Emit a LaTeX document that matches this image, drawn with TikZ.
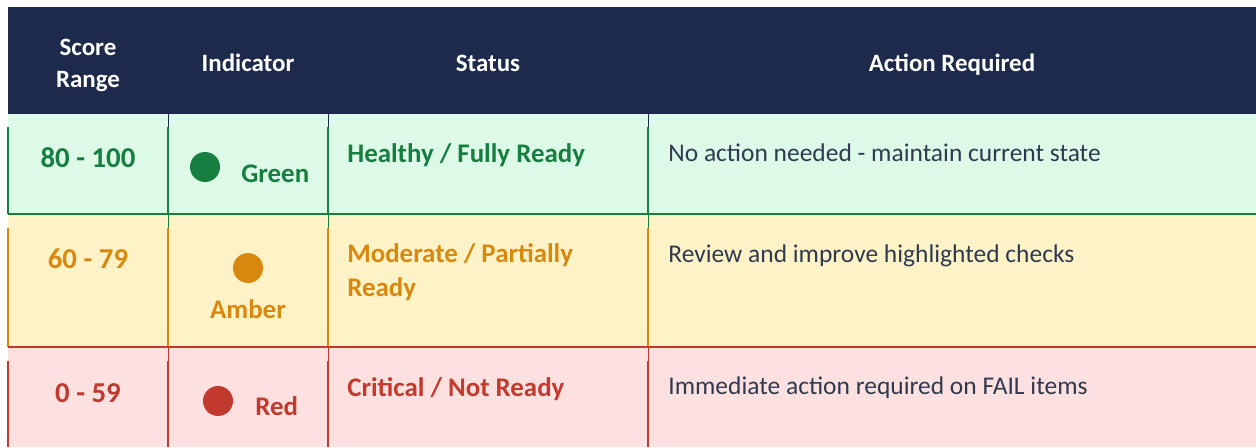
\documentclass[tikz,border=0pt]{standalone}
\usepackage{fontspec}
\setmainfont{Carlito}

\definecolor{headNavy}{HTML}{1D2A4B}
\definecolor{goodText}{HTML}{167E3E}
\definecolor{goodFill}{HTML}{DDFAE8}
\definecolor{midText}{HTML}{D8880F}
\definecolor{midFill}{HTML}{FEF2C7}
\definecolor{badText}{HTML}{C23A2E}
\definecolor{badFill}{HTML}{FDE0E0}
\definecolor{actText}{HTML}{2E3A4F}

\begin{document}
\begin{tikzpicture}
[x=0.02cm,y=-0.02cm,
  headDecorate/.style={text=white,inner sep=0pt,anchor=base,
    font=\fontsize{14.2}{18}\selectfont\bfseries},%
  scoreDecorate/.style={inner sep=0pt,anchor=base,
    font=\fontsize{16.4}{19}\selectfont\bfseries},%
  cellDecorate/.style={inner sep=0pt,anchor=base west,
    font=\fontsize{15.3}{19}\selectfont\bfseries},%
  actDecorate/.style={inner sep=0pt,anchor=base west,text=actText,
    font=\fontsize{14.5}{18}\selectfont},%
  dotDecorate/.style={shape=circle,inner sep=0pt,minimum size=30*0.02cm}]
\useasboundingbox (0,0) rectangle (1256,447);
%% header and row backgrounds
\fill[headNavy] (8,7) rectangle (1256,114);
\fill[goodFill] (8,114) rectangle (1256,214);
\fill[midFill] (8,214) rectangle (1256,347);
\fill[badFill] (8,347) rectangle (1256,447);
%% row borders
\foreach \x in {168,328,648}
{
  \draw[headNavy,line width=0.5pt] (\x,114) -- (\x,127);
  \draw[goodText,line width=0.5pt] (\x,214) -- (\x,228);
  \draw[badText,line width=0.5pt] (\x,347) -- (\x,361);
}
\foreach \x in {8,168,328,648}
{
  \draw[goodText,line width=1pt] (\x,127) -- (\x,214);
  \draw[midText,line width=1pt] (\x,228) -- (\x,347);
  \draw[badText,line width=1pt] (\x,361) -- (\x,447);
}
\draw[goodText,line width=0.7pt] (8,214) -- (1256,214);
\draw[badText,line width=0.7pt] (8,347) -- (1256,347);
%% header texts
\node (hScore) at (88,55) [headDecorate] {Score};
\node (hRange) at (88,87) [headDecorate] {Range};
\node (hInd) at (248,71) [headDecorate] {Indicator};
\node (hStat) at (488,71) [headDecorate] {Status};
\node (hAct) at (952,71) [headDecorate] {Action Required};
%% score ranges
\node (sGood) at (88,167) [scoreDecorate,text=goodText] {80 - 100};
\node (sMid) at (88,268) [scoreDecorate,text=midText] {60 - 79};
\node (sBad) at (88,402) [scoreDecorate,text=badText] {0 - 59};
%% indicators
\node (dGood) at (205,167) [dotDecorate,fill=goodText] {};
\node (dMid) at (248,268) [dotDecorate,fill=midText] {};
\node (dBad) at (218,401) [dotDecorate,fill=badText] {};
\node (iGood) at (241,182) [cellDecorate,text=goodText] {Green};
\node (iMid) at (248,318) [cellDecorate,text=midText,anchor=base] {Amber};
\node (iBad) at (255,415) [cellDecorate,text=badText] {Red};
%% status
\node (tGood) at (347,162) [cellDecorate,text=goodText] {Healthy / Fully Ready};
\node (tMid) at (347,262) [cellDecorate,text=midText] {Moderate / Partially};
\node (tMidB) at (347,296) [cellDecorate,text=midText] {Ready};
\node (tBad) at (347,396) [cellDecorate,text=badText] {Critical / Not Ready};
%% actions
\node (aGood) at (668,161) [actDecorate] {No action needed - maintain current state};
\node (aMid) at (668,262) [actDecorate] {Review and improve highlighted checks};
\node (aBad) at (668,394) [actDecorate] {Immediate action required on FAIL items};
\end{tikzpicture}
\end{document}
